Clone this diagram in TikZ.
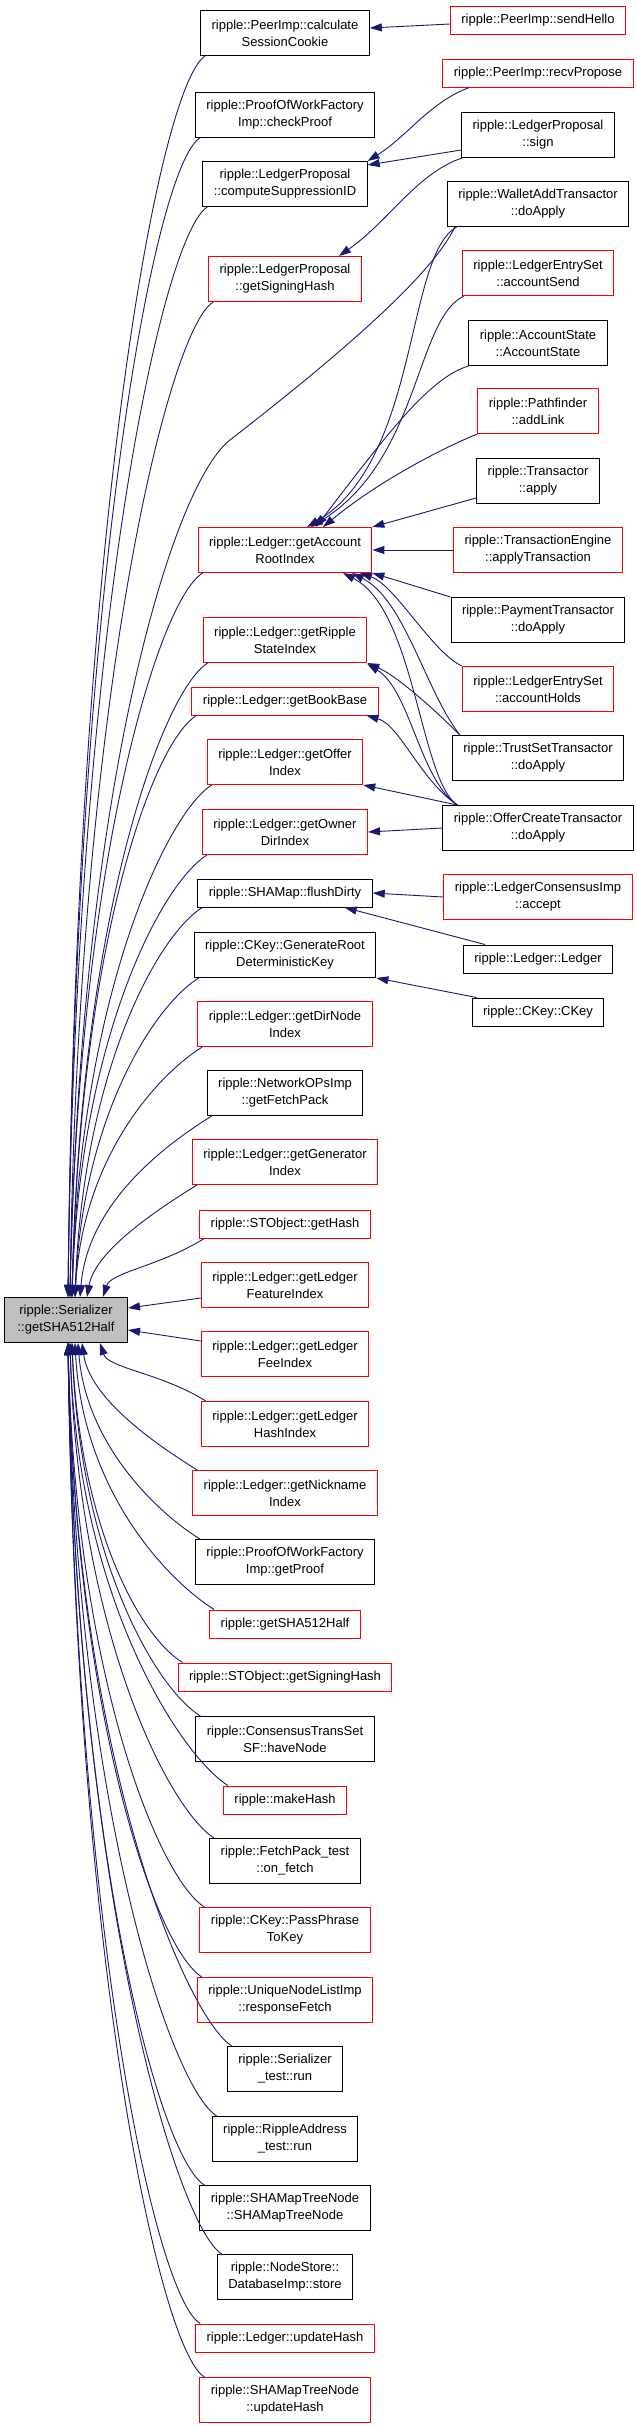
\documentclass[tikz,border=0pt]{standalone}
\usepackage{fontspec}
\setmainfont{Liberation Sans}
\usetikzlibrary{arrows.meta}
\definecolor{edgeblue}{HTML}{191970}
\definecolor{rootgray}{HTML}{BFBFBF}
\definecolor{docred}{HTML}{FF0000}
\tikzset{
  fn/.style={draw=black, fill=white, line width=1pt, align=center,
    inner xsep=11pt, inner ysep=1pt, minimum height=28pt,
    font=\fontsize{13}{17}\selectfont},
  fnred/.style={fn, draw=docred},
  two/.style={minimum height=45pt},
  fnroot/.style={fn, two, fill=rootgray, minimum width=123pt},
  call/.style={edgeblue, line width=0.9pt, -{Triangle[length=12pt,width=8pt]}}
}

\begin{document}
\begin{tikzpicture}[x=1pt,y=1pt]
\useasboundingbox (0,0) rectangle (637,-2428);

% the function itself
\node[fnroot] (root) at (66,-1320) {ripple::Serializer\\::getSHA512Half};

% direct callers
\node[fn,two] (calc) at (285,-33) {ripple::PeerImp::calculate\\SessionCookie};
\node[fn,two] (checkProof) at (285,-115) {ripple::ProofOfWorkFactory\\Imp::checkProof};
\node[fn,two] (compSupp) at (285,-184) {ripple::LedgerProposal\\::computeSuppressionID};
\node[fnred,two] (lpSignHash) at (285,-279) {ripple::LedgerProposal\\::getSigningHash};
\node[fnred,two] (acctRoot) at (285,-550) {ripple::Ledger::getAccount\\RootIndex};
\node[fnred,two] (rsIdx) at (285,-640) {ripple::Ledger::getRipple\\StateIndex};
\node[fnred] (bookBase) at (285,-701) {ripple::Ledger::getBookBase};
\node[fnred,two] (offerIdx) at (285,-762) {ripple::Ledger::getOffer\\Index};
\node[fnred,two] (ownerDir) at (285,-832) {ripple::Ledger::getOwner\\DirIndex};
\node[fn] (flushDirty) at (285,-893) {ripple::SHAMap::flushDirty};
\node[fn,two] (genRoot) at (285,-955) {ripple::CKey::GenerateRoot\\DeterministicKey};
\node[fnred,two] (dirNode) at (285,-1024) {ripple::Ledger::getDirNode\\Index};
\node[fn,two] (fetchPack) at (285,-1093) {ripple::NetworkOPsImp\\::getFetchPack};
\node[fnred,two] (generator) at (285,-1162) {ripple::Ledger::getGenerator\\Index};
\node[fnred] (stHash) at (285,-1224) {ripple::STObject::getHash};
\node[fnred,two] (featIdx) at (285,-1285) {ripple::Ledger::getLedger\\FeatureIndex};
\node[fnred,two] (feeIdx) at (285,-1354) {ripple::Ledger::getLedger\\FeeIndex};
\node[fnred,two] (hashIdx) at (285,-1424) {ripple::Ledger::getLedger\\HashIndex};
\node[fnred,two] (nickIdx) at (285,-1493) {ripple::Ledger::getNickname\\Index};
\node[fn,two] (getProof) at (285,-1562) {ripple::ProofOfWorkFactory\\Imp::getProof};
\node[fnred] (sha512) at (285,-1624) {ripple::getSHA512Half};
\node[fnred] (stSignHash) at (285,-1677) {ripple::STObject::getSigningHash};
\node[fn,two] (haveNode) at (285,-1739) {ripple::ConsensusTransSet\\SF::haveNode};
\node[fnred] (makeHash) at (285,-1800) {ripple::makeHash};
\node[fn,two] (onFetch) at (285,-1861) {ripple::FetchPack\_test\\::on\_fetch};
\node[fnred,two] (passPhrase) at (285,-1930) {ripple::CKey::PassPhrase\\ToKey};
\node[fnred,two] (respFetch) at (285,-2000) {ripple::UniqueNodeListImp\\::responseFetch};
\node[fn,two] (serTest) at (285,-2069) {ripple::Serializer\\\_test::run};
\node[fn,two] (raTest) at (285,-2139) {ripple::RippleAddress\\\_test::run};
\node[fn,two] (smtnCtor) at (285,-2208) {ripple::SHAMapTreeNode\\::SHAMapTreeNode};
\node[fn,two] (dbStore) at (285,-2277) {ripple::NodeStore::\\DatabaseImp::store};
\node[fnred] (ldgUpd) at (285,-2338) {ripple::Ledger::updateHash};
\node[fnred,two] (smtnUpd) at (285,-2400) {ripple::SHAMapTreeNode\\::updateHash};

% second level callers
\node[fnred] (sendHello) at (538,-20) {ripple::PeerImp::sendHello};
\node[fnred] (recvPropose) at (538,-73) {ripple::PeerImp::recvPropose};
\node[fn,two] (lpSign) at (538,-135) {ripple::LedgerProposal\\::sign};
\node[fn,two] (walletAdd) at (538,-204) {ripple::WalletAddTransactor\\::doApply};
\node[fnred,two] (acctSend) at (538,-273) {ripple::LedgerEntrySet\\::accountSend};
\node[fn,two] (acctState) at (538,-343) {ripple::AccountState\\::AccountState};
\node[fnred,two] (pathAdd) at (538,-411) {ripple::Pathfinder\\::addLink};
\node[fn,two] (txApply) at (538,-481) {ripple::Transactor\\::apply};
\node[fnred,two] (txEngine) at (538,-550) {ripple::TransactionEngine\\::applyTransaction};
\node[fn,two] (payTx) at (538,-620) {ripple::PaymentTransactor\\::doApply};
\node[fnred,two] (acctHolds) at (538,-689) {ripple::LedgerEntrySet\\::accountHolds};
\node[fn,two] (trustTx) at (538,-758) {ripple::TrustSetTransactor\\::doApply};
\node[fn,two] (offerTx) at (538,-828) {ripple::OfferCreateTransactor\\::doApply};
\node[fnred,two] (lcAccept) at (538,-897) {ripple::LedgerConsensusImp\\::accept};
\node[fn] (ledgerCtor) at (538,-959) {ripple::Ledger::Ledger};
\node[fn] (ckey) at (538,-1012) {ripple::CKey::CKey};

% calls into the root from above
\foreach \n/\ex/\L in {calc/2/780, checkProof/2/720, compSupp/2/670,
    lpSignHash/4/600, acctRoot/4/430, rsIdx/6/380, bookBase/6/350,
    offerIdx/6/300, ownerDir/6/260, flushDirty/9/225, genRoot/9/180,
    dirNode/9/140, fetchPack/14/95, generator/21/45, stHash/37/25}
  \draw[call] ([xshift=5pt]\n.south west) .. controls +(-45,-28) and +(8,\L) .. ([xshift=\ex pt]root.north);
\draw[call] ([xshift=8pt]walletAdd.south west) .. controls (430,-280) and (320,-370) .. (230,-440)
  .. controls (170,-487) and (80,-797) .. ([xshift=4pt]root.north);

% calls into the root from the side
\draw[call] ([yshift=-13pt]featIdx.west) -- ([yshift=12pt]root.east);
\draw[call] ([yshift=13pt]feeIdx.west) -- ([yshift=-10pt]root.east);

% calls into the root from below
\foreach \n/\ex/\L in {hashIdx/34/25, nickIdx/16/55, getProof/12/100,
    sha512/9/150, stSignHash/6/180, haveNode/6/215, makeHash/4/260,
    onFetch/4/290, passPhrase/2/335, respFetch/2/380, serTest/2/420,
    raTest/2/465, smtnCtor/2/510, dbStore/2/550, ldgUpd/2/590, smtnUpd/2/620}
  \draw[call] ([xshift=5pt]\n.north west) .. controls +(-45,28) and +(8,-\L) .. ([xshift=\ex pt]root.south);

% second level
\draw[call] ([yshift=-4pt]sendHello.west) -- ([yshift=5pt]calc.east);
\draw[call] ([xshift=27pt]recvPropose.south west) .. controls +(-40,-15) and +(40,25) .. (compSupp.north east);
\draw[call] ([yshift=-15pt]lpSign.west) -- ([yshift=19pt]compSupp.east);
\draw[call] ([xshift=1pt]lpSign.south west) .. controls +(-45,-15) and +(50,35) .. ([xshift=54pt]lpSignHash.north);
\draw[call] ([xshift=10pt]walletAdd.south west) .. controls (405,-255) and (420,-460) .. ([xshift=22pt]acctRoot.north);
\draw[call] ([xshift=2pt]acctSend.south west) .. controls (415,-320) and (420,-460) .. ([xshift=26pt]acctRoot.north);
\draw[call] (acctState.south west) .. controls (430,-378) and (390,-430) .. ([xshift=31pt]acctRoot.north);
\draw[call] (pathAdd.south west) .. controls (445,-447) and (380,-480) .. ([xshift=38pt]acctRoot.north);
\draw[call] ([yshift=6pt]txApply.south west) -- (acctRoot.north east);
\draw[call] (txEngine.west) -- (acctRoot.east);
\draw[call] (payTx.north west) -- (acctRoot.south east);
\draw[call] (acctHolds.north west) .. controls (432,-652) and (395,-585) .. ([xshift=75pt]acctRoot.south);
\draw[call] ([xshift=8pt]trustTx.north west) .. controls (425,-690) and (405,-600) .. ([xshift=67pt]acctRoot.south);
\draw[call] ([xshift=8pt]trustTx.north west) .. controls (430,-705) and (395,-675) .. (rsIdx.south east);
\draw[call] ([xshift=15pt]offerTx.north west) .. controls (420,-780) and (415,-610) .. ([xshift=58pt]acctRoot.south);
\draw[call] ([xshift=15pt]offerTx.north west) .. controls (420,-780) and (410,-690) .. ([yshift=-1pt]rsIdx.south east);
\draw[call] ([xshift=15pt]offerTx.north west) .. controls (420,-780) and (400,-725) .. ([xshift=-12pt]bookBase.south east);
\draw[call] ([xshift=15pt]offerTx.north west) -- (offerIdx.south east);
\draw[call] (offerTx.west) -- (ownerDir.east);
\draw[call] (lcAccept.west) -- (flushDirty.east);
\draw[call] ([xshift=22pt]ledgerCtor.north west) -- ([xshift=-28pt]flushDirty.south east);
\draw[call] ([xshift=5pt]ckey.north west) -- (genRoot.south east);
\end{tikzpicture}
\end{document}
